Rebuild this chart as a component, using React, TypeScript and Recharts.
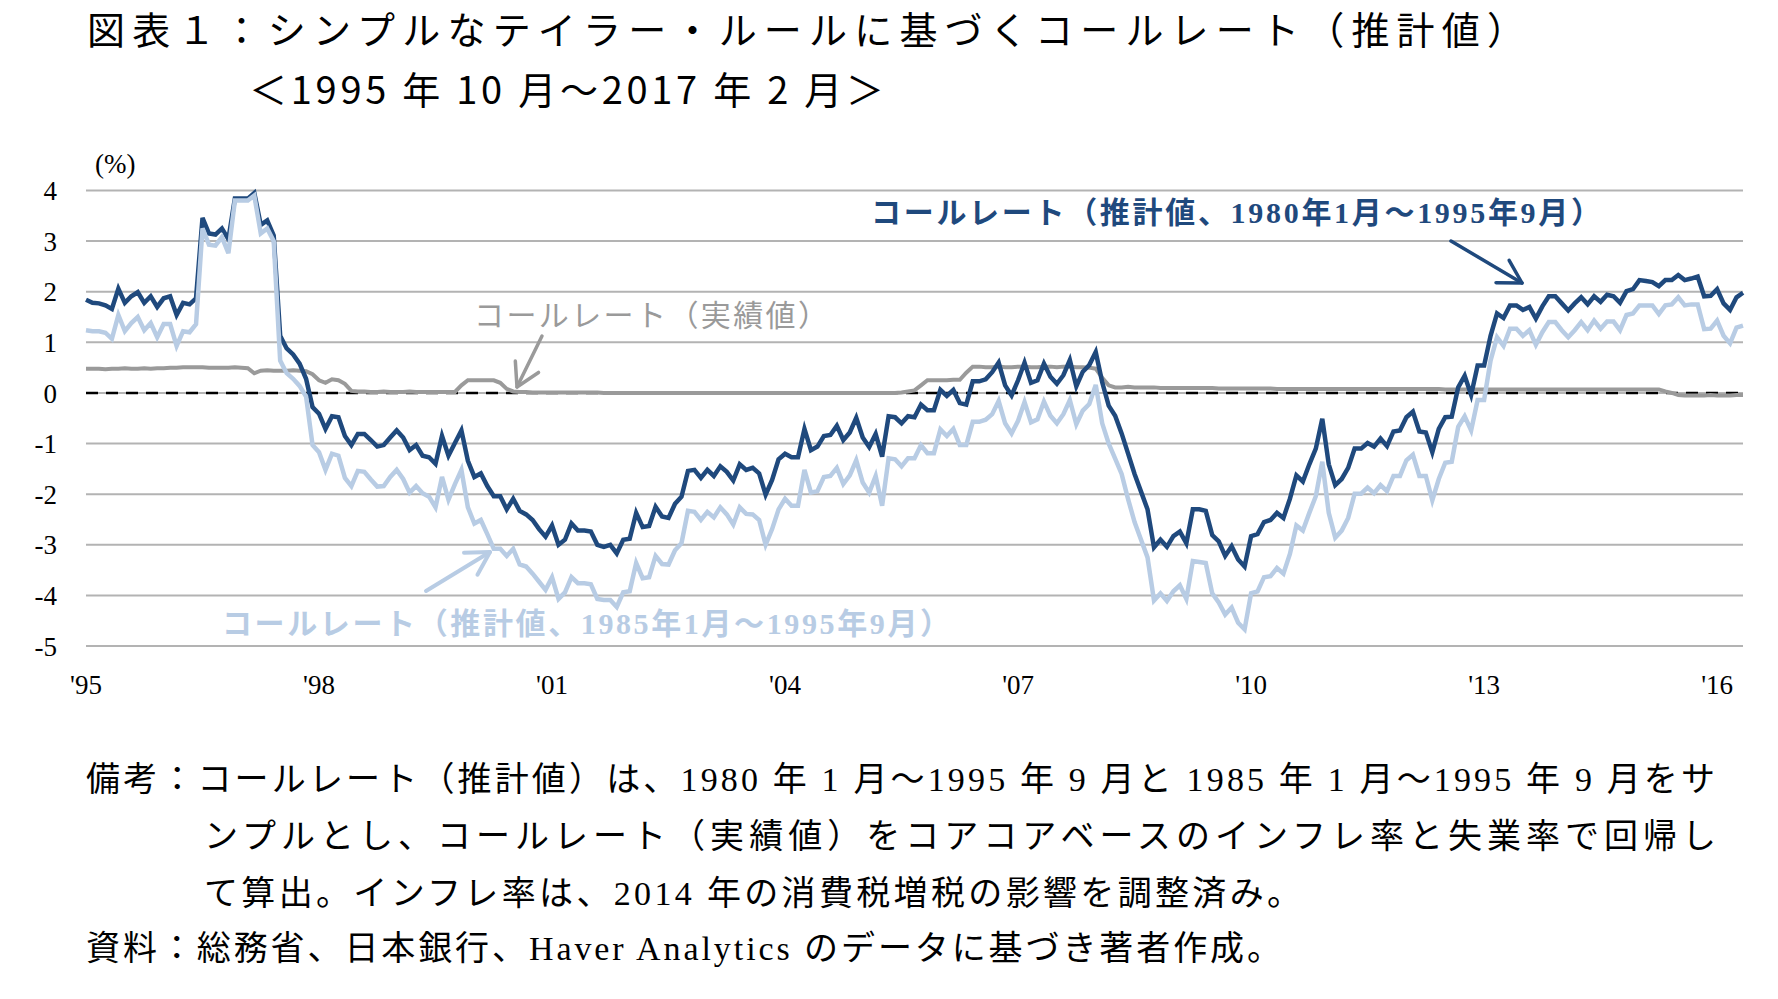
import { LineChart, Line, XAxis, YAxis, CartesianGrid, ReferenceLine } from "recharts";

const FIRST_YEAR = 1995;
const FIRST_MONTH = 10;
const MONTH_COUNT = 257;

const MONTHS: string[] = Array.from({ length: MONTH_COUNT }, (_, i) => {
  const m = FIRST_MONTH - 1 + i;
  return `${FIRST_YEAR + Math.floor(m / 12)}-${String((m % 12) + 1).padStart(2, "0")}`;
});

const TICK_MONTHS = ["1995-10", "1998-10", "2001-10", "2004-10", "2007-10", "2010-10", "2013-10", "2016-10"];
const TICK_LABELS = ["'95", "'98", "'01", "'04", "'07", "'10", "'13", "'16"];
const Y_TICKS = [-5, -4, -3, -2, -1, 0, 1, 2, 3, 4];

// 推計値（1980年1月～1995年9月サンプル）
const EST_1980 = [
  1.84, 1.78, 1.77, 1.73, 1.66, 2.06, 1.78, 1.91, 1.99, 1.78, 1.91, 1.70,
  1.87, 1.91, 1.54, 1.78, 1.75, 1.87, 3.46, 3.15, 3.13, 3.25, 3.04, 3.84,
  3.84, 3.84, 3.95, 3.32, 3.41, 3.11, 1.13, 0.88, 0.76, 0.58, 0.28, -0.28,
  -0.41, -0.71, -0.46, -0.48, -0.85, -1.03, -0.81, -0.81, -0.93, -1.06, -1.03, -0.88,
  -0.74, -0.88, -1.13, -1.03, -1.24, -1.27, -1.40, -0.85, -1.24, -0.99, -0.74, -1.34,
  -1.66, -1.59, -1.84, -2.04, -2.04, -2.30, -2.09, -2.33, -2.40, -2.51, -2.69, -2.84,
  -2.62, -3.00, -2.90, -2.58, -2.72, -2.72, -2.74, -3.00, -3.04, -3.00, -3.17, -2.90,
  -2.88, -2.37, -2.65, -2.63, -2.25, -2.44, -2.47, -2.19, -2.05, -1.54, -1.52, -1.68,
  -1.52, -1.64, -1.45, -1.56, -1.73, -1.41, -1.52, -1.48, -1.59, -2.01, -1.72, -1.31,
  -1.20, -1.27, -1.27, -0.71, -1.13, -1.06, -0.85, -0.83, -0.65, -0.93, -0.78, -0.49,
  -0.88, -1.07, -0.81, -1.26, -0.46, -0.48, -0.60, -0.46, -0.48, -0.23, -0.34, -0.34,
  0.06, -0.06, 0.06, -0.20, -0.23, 0.23, 0.23, 0.27, 0.41, 0.60, 0.15, -0.05,
  0.25, 0.60, 0.20, 0.25, 0.58, 0.32, 0.18, 0.35, 0.65, 0.13, 0.42, 0.55,
  0.81, 0.21, -0.25, -0.45, -0.80, -1.20, -1.60, -1.95, -2.30, -3.05, -2.90, -3.04,
  -2.83, -2.74, -2.97, -2.30, -2.30, -2.33, -2.81, -2.93, -3.22, -3.03, -3.29, -3.43,
  -2.83, -2.79, -2.55, -2.51, -2.37, -2.47, -2.09, -1.63, -1.75, -1.41, -1.10, -0.51,
  -1.41, -1.82, -1.70, -1.48, -1.10, -1.10, -0.99, -1.06, -0.90, -1.05, -0.76, -0.74,
  -0.48, -0.37, -0.76, -0.78, -1.17, -0.71, -0.48, -0.47, 0.11, 0.34, -0.04, 0.54,
  0.54, 1.13, 1.57, 1.48, 1.73, 1.73, 1.64, 1.70, 1.47, 1.71, 1.91, 1.91,
  1.77, 1.63, 1.77, 1.89, 1.75, 1.91, 1.80, 1.94, 1.91, 1.78, 2.01, 2.05,
  2.23, 2.21, 2.19, 2.11, 2.23, 2.23, 2.33, 2.23, 2.26, 2.30, 1.91, 1.92,
  2.05, 1.77, 1.64, 1.89, 1.98,
];

// 推計値（1985年1月～1995年9月サンプル）
const EST_1985 = [
  1.24, 1.22, 1.22, 1.19, 1.07, 1.54, 1.22, 1.38, 1.50, 1.24, 1.38, 1.10,
  1.36, 1.36, 0.93, 1.22, 1.20, 1.36, 3.25, 2.93, 2.91, 3.08, 2.76, 3.80,
  3.80, 3.80, 3.90, 3.15, 3.25, 3.00, 0.64, 0.39, 0.28, 0.14, -0.07, -1.03,
  -1.17, -1.52, -1.20, -1.24, -1.68, -1.84, -1.54, -1.56, -1.71, -1.85, -1.84, -1.66,
  -1.52, -1.70, -1.97, -1.84, -1.98, -2.05, -2.26, -1.66, -2.11, -1.80, -1.52, -2.26,
  -2.58, -2.51, -2.79, -3.08, -3.08, -3.22, -3.08, -3.39, -3.43, -3.57, -3.73, -3.89,
  -3.64, -4.07, -3.94, -3.64, -3.76, -3.76, -3.78, -4.07, -4.09, -4.09, -4.23, -3.94,
  -3.92, -3.36, -3.66, -3.64, -3.22, -3.38, -3.39, -3.11, -2.97, -2.33, -2.35, -2.51,
  -2.35, -2.46, -2.26, -2.40, -2.60, -2.26, -2.39, -2.40, -2.51, -3.00, -2.69, -2.30,
  -2.09, -2.23, -2.23, -1.52, -1.97, -1.94, -1.66, -1.64, -1.48, -1.80, -1.63, -1.33,
  -1.77, -1.97, -1.64, -2.23, -1.29, -1.31, -1.45, -1.29, -1.29, -1.03, -1.19, -1.19,
  -0.72, -0.85, -0.71, -1.03, -1.03, -0.57, -0.57, -0.53, -0.42, -0.16, -0.60, -0.80,
  -0.55, -0.18, -0.58, -0.52, -0.17, -0.45, -0.60, -0.42, -0.14, -0.62, -0.35, -0.22,
  0.16, -0.60, -1.00, -1.30, -1.60, -2.10, -2.55, -2.90, -3.25, -4.10, -3.96, -4.11,
  -3.92, -3.80, -4.07, -3.32, -3.34, -3.36, -3.96, -4.14, -4.38, -4.24, -4.54, -4.67,
  -3.96, -3.92, -3.64, -3.62, -3.46, -3.57, -3.18, -2.62, -2.72, -2.37, -2.04, -1.36,
  -2.37, -2.86, -2.72, -2.47, -1.99, -1.99, -1.87, -1.98, -1.82, -1.94, -1.64, -1.64,
  -1.33, -1.22, -1.64, -1.64, -2.12, -1.70, -1.38, -1.36, -0.67, -0.46, -0.74, -0.14,
  -0.14, 0.64, 1.10, 0.93, 1.27, 1.27, 1.13, 1.24, 0.95, 1.20, 1.40, 1.40,
  1.24, 1.10, 1.24, 1.40, 1.24, 1.43, 1.27, 1.41, 1.41, 1.24, 1.54, 1.57,
  1.73, 1.73, 1.73, 1.56, 1.73, 1.75, 1.89, 1.73, 1.75, 1.75, 1.26, 1.27,
  1.43, 1.13, 0.98, 1.29, 1.33,
];

// 実績値
const ACTUAL = [
  0.48, 0.48, 0.48, 0.47, 0.48, 0.48, 0.49, 0.48, 0.48, 0.49, 0.48, 0.49,
  0.49, 0.50, 0.50, 0.51, 0.51, 0.51, 0.51, 0.50, 0.50, 0.50, 0.50, 0.51,
  0.50, 0.49, 0.39, 0.44, 0.45, 0.44, 0.44, 0.44, 0.45, 0.44, 0.43, 0.37,
  0.25, 0.20, 0.27, 0.25, 0.18, 0.04, 0.03, 0.03, 0.02, 0.02, 0.03, 0.02,
  0.02, 0.02, 0.03, 0.02, 0.02, 0.02, 0.02, 0.02, 0.02, 0.02, 0.15, 0.25,
  0.25, 0.25, 0.25, 0.25, 0.20, 0.08, 0.03, 0.02, 0.02, 0.01, 0.01, 0.01,
  0.01, 0.01, 0.01, 0.01, 0.01, 0.01, 0.01, 0.01, 0.00, 0.00, 0.00, 0.00,
  0.00, 0.00, 0.00, 0.00, 0.00, 0.00, 0.00, 0.00, 0.00, 0.00, 0.00, 0.00,
  0.00, 0.00, 0.00, 0.00, 0.00, 0.00, 0.00, 0.00, 0.00, 0.00, 0.00, 0.00,
  0.00, 0.00, 0.00, 0.00, 0.00, 0.00, 0.00, 0.00, 0.00, 0.00, 0.00, 0.00,
  0.00, 0.00, 0.00, 0.00, 0.00, 0.00, 0.01, 0.03, 0.05, 0.15, 0.25, 0.25,
  0.25, 0.25, 0.26, 0.26, 0.40, 0.52, 0.52, 0.51, 0.51, 0.52, 0.51, 0.51,
  0.52, 0.52, 0.51, 0.51, 0.52, 0.52, 0.51, 0.52, 0.52, 0.51, 0.51, 0.50,
  0.48, 0.30, 0.15, 0.11, 0.11, 0.12, 0.11, 0.11, 0.11, 0.11, 0.10, 0.10,
  0.10, 0.10, 0.10, 0.10, 0.10, 0.10, 0.10, 0.09, 0.09, 0.09, 0.09, 0.09,
  0.09, 0.09, 0.09, 0.09, 0.08, 0.08, 0.08, 0.08, 0.08, 0.08, 0.08, 0.08,
  0.08, 0.08, 0.08, 0.08, 0.08, 0.08, 0.08, 0.08, 0.08, 0.08, 0.08, 0.08,
  0.08, 0.08, 0.08, 0.08, 0.08, 0.08, 0.07, 0.07, 0.07, 0.07, 0.07, 0.07,
  0.07, 0.07, 0.07, 0.07, 0.07, 0.07, 0.07, 0.07, 0.07, 0.07, 0.07, 0.07,
  0.07, 0.07, 0.07, 0.07, 0.07, 0.07, 0.07, 0.07, 0.07, 0.07, 0.07, 0.07,
  0.07, 0.07, 0.07, 0.07, 0.03, 0.00, -0.04, -0.05, -0.05, -0.05, -0.05, -0.04,
  -0.05, -0.05, -0.05, -0.04, -0.04,
];

const DARK = "#1F497D";
const LIGHT = "#B8CCE4";
const GRAY = "#9A9A9A";
const SERIF = "'Liberation Serif', 'Noto Sans CJK JP', serif";
const GOTHIC = "'Noto Sans CJK JP', 'Noto Sans', sans-serif";

const data = MONTHS.map((month, i) => ({
  month,
  est1980: EST_1980[i],
  est1985: EST_1985[i],
  actual: ACTUAL[i],
}));

function Arrow({ from, to, color, width }: { from: number[]; to: number[]; color: string; width: number }) {
  const [x1, y1] = from;
  const [x2, y2] = to;
  const a = Math.atan2(y2 - y1, x2 - x1);
  const len = 26;
  const spread = 0.52;
  const p1 = `${x2 - len * Math.cos(a - spread)},${y2 - len * Math.sin(a - spread)}`;
  const p2 = `${x2 - len * Math.cos(a + spread)},${y2 - len * Math.sin(a + spread)}`;
  return (
    <g stroke={color} strokeWidth={width} fill="none" strokeLinecap="round" strokeLinejoin="round">
      <line x1={x1} y1={y1} x2={x2} y2={y2} />
      <polyline points={`${p1} ${x2},${y2} ${p2}`} />
    </g>
  );
}

export default function App() {
  return (
    <div style={{ position: "absolute", left: 0, top: 0, width: 1778, height: 999, background: "#fff" }}>
      <div style={{ position: "absolute", left: 0, top: 0 }}>
        <LineChart width={1778} height={730} data={data} margin={{ top: 190.5, right: 35, bottom: 24, left: 26 }}>
          <CartesianGrid vertical={false} stroke="#B3B3B3" strokeWidth={2} />
          <XAxis
            dataKey="month"
            scale="point"
            interval={35}
            height={60}
            axisLine={false}
            tickLine={false}
            tickMargin={23}
            tick={{ fontFamily: SERIF, fontSize: 27, fill: "#000" }}
            tickFormatter={(v: string) => TICK_LABELS[TICK_MONTHS.indexOf(v)] ?? ""}
          />
          <YAxis
            domain={[-5, 4]}
            ticks={Y_TICKS}
            width={60}
            axisLine={false}
            tickLine={false}
            tickMargin={23}
            tick={{ fontFamily: SERIF, fontSize: 27, fill: "#000" }}
          />
          <ReferenceLine y={0} stroke="#000" strokeWidth={2.5} strokeDasharray="12 8" zIndex={-50} />
          <Line dataKey="actual" stroke={GRAY} strokeWidth={4} dot={false} activeDot={false} isAnimationActive={false} />
          <Line dataKey="est1980" stroke={DARK} strokeWidth={4.5} dot={false} activeDot={false} isAnimationActive={false} />
          <Line dataKey="est1985" stroke={LIGHT} strokeWidth={4.5} dot={false} activeDot={false} isAnimationActive={false} />
        </LineChart>
      </div>
      <svg width={1778} height={999} style={{ position: "absolute", left: 0, top: 0, pointerEvents: "none" }}>
        <text x={87} y={44} fontFamily={GOTHIC} fontSize={38} textLength={1438} lengthAdjust="spacing" fill="#000">
          図表１：シンプルなテイラー・ルールに基づくコールレート（推計値）
        </text>
        <text x={249} y={104} fontFamily={GOTHIC} fontSize={38} textLength={635} lengthAdjust="spacing" fill="#000">
          ＜1995 年 10 月～2017 年 2 月＞
        </text>
        <text x={95} y={173} fontFamily={SERIF} fontSize={27} fill="#000">(%)</text>

        <text x={871} y={223} fontFamily={SERIF} fontSize={30} fontWeight="bold" textLength={730} lengthAdjust="spacing" fill={DARK}>
          コールレート（推計値、1980年1月～1995年9月）
        </text>
        <Arrow from={[1451, 241]} to={[1522, 283]} color={DARK} width={3.5} />

        <text x={474} y={326} fontFamily={SERIF} fontSize={30} textLength={354} lengthAdjust="spacing" fill={GRAY}>
          コールレート（実績値）
        </text>
        <Arrow from={[542, 336]} to={[517, 387]} color={GRAY} width={3.5} />

        <text x={222} y={634} fontFamily={SERIF} fontSize={30} fontWeight="bold" textLength={728} lengthAdjust="spacing" fill={LIGHT}>
          コールレート（推計値、1985年1月～1995年9月）
        </text>
        <Arrow from={[426, 591]} to={[490, 552]} color={LIGHT} width={4} />

        <g fontFamily={SERIF} fontSize={34} fill="#000">
          <text x={86} y={791} textLength={1629} lengthAdjust="spacing">
            備考：コールレート（推計値）は、1980 年 1 月～1995 年 9 月と 1985 年 1 月～1995 年 9 月をサ
          </text>
          <text x={204} y={848} textLength={1512} lengthAdjust="spacing">
            ンプルとし、コールレート（実績値）をコアコアベースのインフレ率と失業率で回帰し
          </text>
          <text x={204} y={905} textLength={1097} lengthAdjust="spacing">
            て算出。インフレ率は、2014 年の消費税増税の影響を調整済み。
          </text>
          <text x={86} y={960} textLength={1195} lengthAdjust="spacing">
            資料：総務省、日本銀行、Haver Analytics のデータに基づき著者作成。
          </text>
        </g>
      </svg>
    </div>
  );
}
